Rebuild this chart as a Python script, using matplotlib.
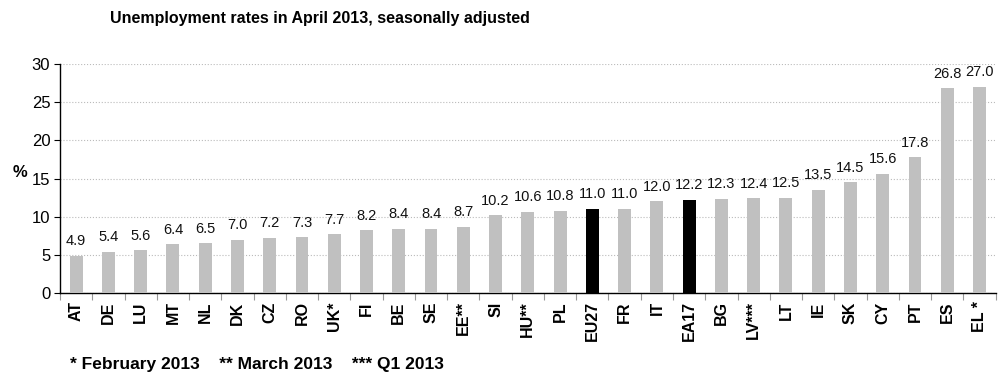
import matplotlib

matplotlib.use("Agg")
import matplotlib.pyplot as plt
import numpy as np

countries = ["AT", "DE", "LU", "MT", "NL", "DK", "CZ", "RO", "UK*", "FI", "BE", "SE", "EE**", "SI",
             "HU**", "PL", "EU27", "FR", "IT", "EA17", "BG", "LV***", "LT", "IE", "SK", "CY", "PT",
             "ES", "EL *"]
rates = [4.9, 5.4, 5.6, 6.4, 6.5, 7.0, 7.2, 7.3, 7.7, 8.2, 8.4, 8.4, 8.7, 10.2,
         10.6, 10.8, 11.0, 11.0, 12.0, 12.2, 12.3, 12.4, 12.5, 13.5, 14.5, 15.6, 17.8,
         26.8, 27.0]
aggregates = ["EU27", "EA17"]
yticks = [0, 5, 10, 15, 20, 25, 30]

plt.rcParams["font.family"] = ["Liberation Sans", "DejaVu Sans"]

fig = plt.figure(figsize=(10.05, 3.79), dpi=100)
ax = fig.add_axes([0.0597, 0.227, 0.931, 0.604])

x = np.arange(len(countries))
colors = ["#000000" if c in aggregates else "#C0C0C0" for c in countries]
ax.bar(x, rates, width=0.4, color=colors, zorder=3)

for xi, v in zip(x, rates):
    ax.text(xi, v + 1.0, f"{v:.1f}", ha="center", va="bottom", fontsize=10.5, color="#111111")

ax.set_xlim(-0.5, len(countries) - 0.5)
ax.set_ylim(0, 30)
ax.set_yticks(yticks)
ax.tick_params(axis="y", labelsize=12, length=4, width=0.8, pad=3)
ax.grid(True, axis="y", linestyle=":", color="#BBBBBB", linewidth=0.8, zorder=0)

ax.set_xticks(x)
ax.set_xticklabels(countries, rotation=90, fontsize=11.5, fontweight="bold")
ax.tick_params(axis="x", length=0, pad=6)
ax.set_xticks(np.arange(-0.5, len(countries), 1.0), minor=True)
ax.tick_params(axis="x", which="minor", length=5, color="#999999", width=0.8)

for side in ["top", "right"]:
    ax.spines[side].set_visible(False)
ax.spines["left"].set_linewidth(1.0)
ax.spines["bottom"].set_linewidth(1.0)

fig.text(0.013, 0.545, "%", fontsize=12, fontweight="bold", va="center")
fig.text(0.318, 0.952, "Unemployment rates in April 2013, seasonally adjusted",
         ha="center", va="center", fontsize=11.5, fontweight="bold")
fig.text(0.07, 0.038, "* February 2013    ** March 2013    *** Q1 2013",
         ha="left", va="center", fontsize=12.5, fontweight="bold")

fig.savefig("out.png", dpi=100)
